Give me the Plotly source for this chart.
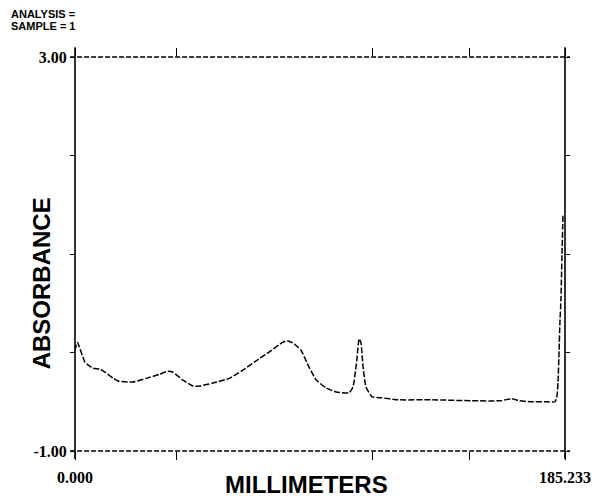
import plotly.graph_objects as go

# Data (millimeters, absorbance)
mm = [0.0, 0.76, 1.0, 3.8, 6.8, 9.5, 11.3, 14.4, 16.3, 21.9, 27.2, 32.1, 35.1, 37.0,
      40.8, 44.6, 47.2, 52.1, 58.5, 63.4, 69.8, 72.6, 78.3, 80.2, 82.8, 85.5,
      88.5, 91.2, 94.9, 98.7, 103.6, 105.1, 106.2, 106.6, 107.4, 108.1, 108.9,
      110.0, 112.3, 116.1, 121.4, 135.0, 150.0, 160.7, 165.0, 168.0, 172.0,
      178.0, 181.5, 182.2, 182.6, 183.0, 183.3, 183.7, 184.1, 184.5]
absorb = [0.02, 0.10, 0.10, -0.10, -0.16, -0.17, -0.20, -0.26, -0.29, -0.30,
          -0.26, -0.22, -0.19, -0.20, -0.28, -0.34, -0.34, -0.31, -0.26, -0.18,
          -0.06, -0.01, 0.10, 0.12, 0.09, 0.02, -0.15, -0.28, -0.36, -0.40,
          -0.41, -0.35, -0.15, -0.06, 0.14, 0.10, -0.15, -0.35, -0.45, -0.46,
          -0.48, -0.48, -0.49, -0.49, -0.47, -0.49, -0.50, -0.50, -0.50,
          -0.44, -0.30, 0.02, 0.30, 0.53, 1.00, 1.41]

x_ticks = [0.0, 38.2, 112.6, 149.3, 185.233]
x_tick_labels = ["0.000", "", "", "", "185.233"]
y_ticks = [-1, 0, 1, 2, 3]
y_tick_labels = ["-1.00", "", "", "", "3.00"]
header_lines = ["ANALYSIS =", "SAMPLE = 1"]

fig = go.Figure()
fig.add_trace(go.Scatter(
    x=mm, y=absorb, mode="lines",
    line=dict(color="black", width=1.5, dash="6px,2px", shape="spline", smoothing=0.4),
    showlegend=False, hoverinfo="skip"))

tickfont = dict(family="Liberation Serif", size=16, color="black", weight="bold")
fig.update_xaxes(range=[0, 185.233], tickvals=x_ticks, ticktext=x_tick_labels,
                 ticks="outside", ticklen=8, tickwidth=1, tickcolor="black",
                 mirror="ticks", showline=False, showgrid=False, zeroline=False,
                 tickfont=tickfont, ticklabelstandoff=4, automargin=False)
fig.update_yaxes(range=[-1, 3], tickvals=y_ticks, ticktext=y_tick_labels,
                 ticks="outside", ticklen=4, tickwidth=1, tickcolor="black",
                 mirror="ticks", showline=False, showgrid=False, zeroline=False,
                 tickfont=tickfont, automargin=False)

# frame: solid sides, dashed top/bottom
fig.add_shape(type="line", xref="paper", yref="paper", x0=0, x1=0, y0=-0.02, y1=1.025,
              line=dict(color="black", width=1.6))
fig.add_shape(type="line", xref="paper", yref="paper", x0=1, x1=1, y0=-0.02, y1=1.025,
              line=dict(color="black", width=1.6))
fig.add_shape(type="line", xref="paper", yref="paper", x0=-0.01, x1=1.01, y0=1, y1=1,
              line=dict(color="black", width=1.3, dash="5px,2px"))
fig.add_shape(type="line", xref="paper", yref="paper", x0=-0.01, x1=1.01, y0=0, y1=0,
              line=dict(color="black", width=1.3, dash="5px,2px"))

fig.add_annotation(text="<b>ABSORBANCE</b>", xref="paper", yref="paper",
                   x=-0.069, y=0.426, textangle=-90, showarrow=False,
                   xanchor="center", yanchor="middle",
                   font=dict(family="Liberation Sans", size=24, color="black"))
fig.add_annotation(text="<b>MILLIMETERS</b>", xref="paper", yref="paper",
                   x=0.473, y=-0.085, showarrow=False, xanchor="center", yanchor="middle",
                   font=dict(family="Liberation Sans", size=24, color="black"))
for i, line_text in enumerate(header_lines):
    fig.add_annotation(text="<b>" + line_text + "</b>", xref="paper", yref="paper",
                       x=-0.133, y=(451 - (14 + 12 * i)) / 394,
                       xanchor="left", yanchor="middle", showarrow=False, borderpad=0,
                       font=dict(family="Liberation Sans", size=11, color="black"))

fig.update_layout(width=600, height=502, margin=dict(l=75, r=35, t=57, b=51),
                  paper_bgcolor="white", plot_bgcolor="white")
fig.write_html("out.html")
